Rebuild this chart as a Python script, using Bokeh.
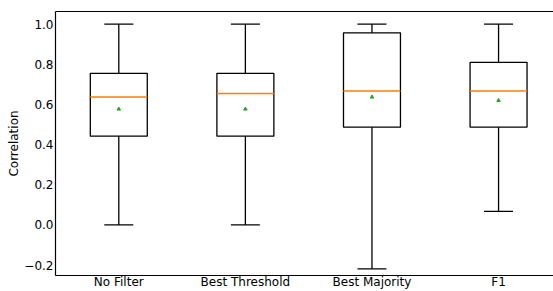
from bokeh.plotting import figure
from bokeh.models import Range1d, FixedTicker, LinearAxis
from bokeh.embed import file_html
from bokeh.resources import INLINE

categories = ["No Filter", "Best Threshold", "Best Majority", "F1"]
whisker_low = [0.0, 0.0, -0.219, 0.067]
q1 = [0.442, 0.442, 0.487, 0.487]
median = [0.637, 0.655, 0.667, 0.667]
q3 = [0.755, 0.755, 0.957, 0.810]
whisker_high = [1.0, 1.0, 1.0, 1.0]
mean = [0.577, 0.577, 0.637, 0.620]
y_ticks = [-0.2, 0.0, 0.2, 0.4, 0.6, 0.8, 1.0]

pos = list(range(1, len(categories) + 1))
FONT = "DejaVu Sans"

p = figure(width=553, height=291, output_backend="svg", toolbar_location=None,
           x_range=Range1d(0.5, 4.434), y_range=Range1d(-0.252, 1.063),
           min_border_left=55, min_border_right=0, min_border_top=11, min_border_bottom=0,
           x_axis_location="below")
p.outline_line_color = None
p.xgrid.visible = False
p.ygrid.visible = False
p.background_fill_color = "white"
p.border_fill_color = "white"

# whiskers
p.segment(x0=pos, y0=q3, x1=pos, y1=whisker_high, line_color="black", line_width=1.3)
p.segment(x0=pos, y0=q1, x1=pos, y1=whisker_low, line_color="black", line_width=1.3)
# caps
p.scatter(x=pos, y=whisker_high, marker="dash", size=29, line_color="black", line_width=1.3)
p.scatter(x=pos, y=whisker_low, marker="dash", size=29, line_color="black", line_width=1.3)
# boxes
p.vbar(x=pos, width=0.45, top=q3, bottom=q1, fill_color=None, line_color="black", line_width=1.3)
# medians
p.hbar(y=median, left=[x - 0.225 for x in pos], right=[x + 0.225 for x in pos], height=0,
       line_color="#ff7f0e", line_width=1.5, fill_color=None)
# means
p.scatter(x=pos, y=mean, marker="triangle", size=3.5, fill_color="#2ca02c", line_color="#2ca02c")

xa = p.xaxis[0]
xa.ticker = FixedTicker(ticks=pos)
xa.major_label_overrides = {x: c for x, c in zip(pos, categories)}
xa.major_tick_out = 0
xa.major_tick_in = 0
xa.minor_tick_out = 0
xa.minor_tick_in = 0
xa.major_label_standoff = -1
xa.major_label_text_font = FONT
xa.major_label_text_font_size = "12px"
xa.major_label_text_color = "black"
xa.axis_line_color = "black"
xa.axis_line_width = 1.2

ya = p.yaxis[0]
ya.ticker = FixedTicker(ticks=y_ticks)
ya.major_label_overrides = {t: ("%.1f" % t).replace("-", "\u2212") for t in y_ticks}
ya.major_tick_out = 0
ya.major_tick_in = 0
ya.minor_tick_out = 0
ya.minor_tick_in = 0
ya.major_label_standoff = 2
ya.major_label_text_font = FONT
ya.major_label_text_font_size = "12px"
ya.major_label_text_color = "black"
ya.axis_label = "Correlation"
ya.axis_label_text_font = FONT
ya.axis_label_text_font_size = "12px"
ya.axis_label_text_font_style = "normal"
ya.axis_label_text_color = "black"
ya.axis_label_standoff = 0
ya.axis_line_color = "black"
ya.axis_line_width = 1.2

top = LinearAxis(ticker=FixedTicker(ticks=[]), major_label_text_font_size="0px",
                 major_tick_out=0, major_tick_in=0, minor_tick_out=0, minor_tick_in=0,
                 axis_line_color="black", axis_line_width=1.2, major_label_standoff=0)
p.add_layout(top, "above")

open("out.html", "w").write(file_html(p, INLINE))
